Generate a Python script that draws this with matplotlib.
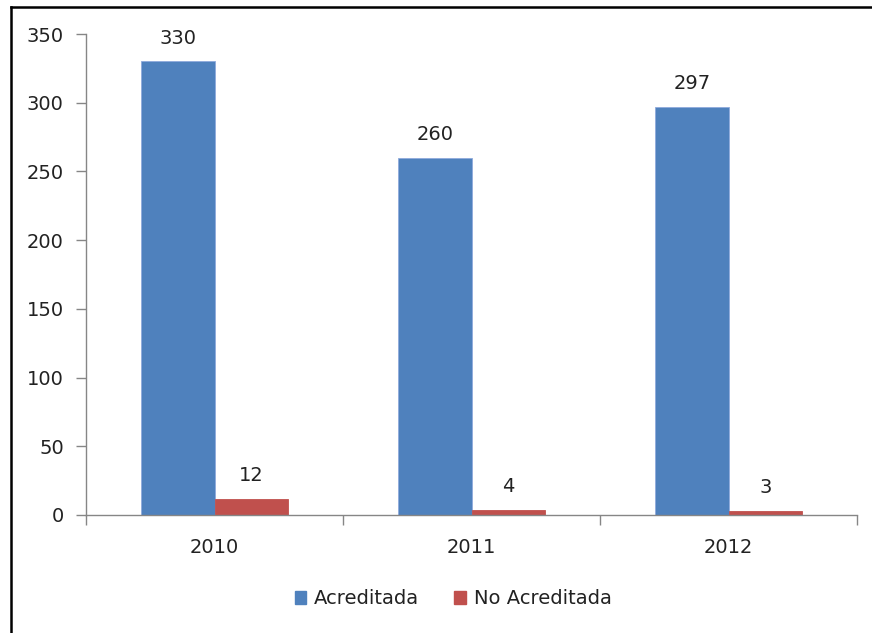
import matplotlib
matplotlib.use("Agg")
import matplotlib.pyplot as plt
import numpy as np
from matplotlib.lines import Line2D
from matplotlib.patches import Patch

years = ["2010", "2011", "2012"]
acreditada = [330, 260, 297]
no_acreditada = [12, 4, 3]
series_names = ["Acreditada", "No Acreditada"]
yticks = [0, 50, 100, 150, 200, 250, 300, 350]

plt.rcParams['font.family'] = ['DejaVu Sans']
W, H = 872, 633
fig = plt.figure(figsize=(W/100, H/100), dpi=100)
ax = fig.add_axes([86/W, 1-515/H, (857-86)/W, (515-34)/H])

blue = "#4F81BD"
red = "#C0504D"
fs = 14
x = np.arange(len(years))
bw = 1/3.5
b1 = ax.bar(x - bw/2, acreditada, bw, color=blue, edgecolor="#8FAADC", linewidth=0.6)
b2 = ax.bar(x + bw/2, no_acreditada, bw, color=red, edgecolor=red, linewidth=0.6)

for rects, vals in ((b1, acreditada), (b2, no_acreditada)):
    for r, v in zip(rects, vals):
        ax.annotate(str(v), (r.get_x() + r.get_width()/2, v), xytext=(0, 10),
                    textcoords="offset points", ha="center", va="bottom",
                    fontsize=fs, color="#222222")

ax.set_xlim(-0.5, 2.5)
ax.set_ylim(0, 350)
ax.set_yticks(yticks)
ax.set_yticklabels([str(t) for t in yticks], fontsize=fs, color="#222222")
ax.set_xticks(x)
ax.set_xticklabels(years, fontsize=fs, color="#222222")
ax.set_xticks([-0.5, 0.5, 1.5, 2.5], minor=True)
ax.tick_params(axis='x', which='major', length=0, pad=16.5)
ax.tick_params(axis='x', which='minor', length=7, color="#868686", width=1)
ax.tick_params(axis='y', length=7, color="#868686", width=1, pad=9)
for s in ("top", "right"):
    ax.spines[s].set_visible(False)
for s in ("left", "bottom"):
    ax.spines[s].set_color("#868686")
    ax.spines[s].set_linewidth(1)

handles = [Patch(facecolor=blue, edgecolor=blue), Patch(facecolor=red, edgecolor=red)]
fig.legend(handles, series_names, loc="center", bbox_to_anchor=(453/W, 1-599/H),
           ncol=2, frameon=False, fontsize=fs, handlelength=0.6, handleheight=0.6,
           handletextpad=0.4, columnspacing=1.8, labelcolor="#222222")

# outer frame
fig.add_artist(Line2D([10.5/W, 10.5/W], [0, 1-6.5/H], transform=fig.transFigure, color="black", lw=1.8))
fig.add_artist(Line2D([10.5/W, 1], [1-6.5/H, 1-6.5/H], transform=fig.transFigure, color="black", lw=1.8))

fig.savefig("out.png", dpi=100)
